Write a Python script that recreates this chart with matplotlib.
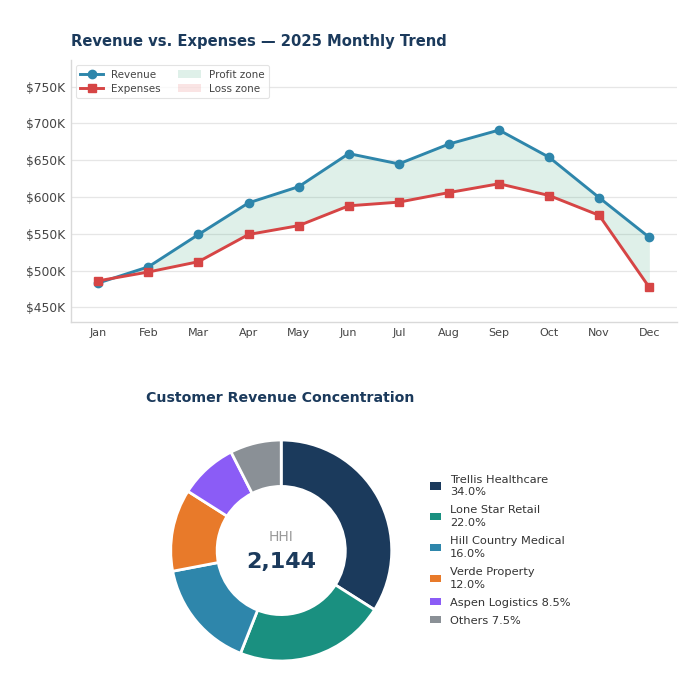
import matplotlib
matplotlib.use("Agg")
import matplotlib.pyplot as plt
from matplotlib.lines import Line2D
from matplotlib.patches import Patch
import numpy as np

months = ["Jan", "Feb", "Mar", "Apr", "May", "Jun", "Jul", "Aug", "Sep", "Oct", "Nov", "Dec"]
revenue = [483, 505, 549, 592, 614, 659, 645, 672, 691, 654, 599, 545]   # $K
expenses = [486, 498, 512, 549, 561, 588, 593, 606, 618, 602, 575, 477]  # $K
y_ticks = [450, 500, 550, 600, 650, 700, 750]

customers = ["Trellis Healthcare", "Lone Star Retail", "Hill Country Medical",
             "Verde Property", "Aspen Logistics", "Others"]
shares = [34.0, 22.0, 16.0, 12.0, 8.5, 7.5]
legend_labels = ["Trellis Healthcare\n34.0%", "Lone Star Retail\n22.0%",
                 "Hill Country Medical\n16.0%", "Verde Property\n12.0%",
                 "Aspen Logistics 8.5%", "Others 7.5%"]
hhi_label = "2,144"

NAVY = "#1b3a5c"
REV_C = "#2e86ab"
EXP_C = "#d64545"
PROFIT_C = "#2a9d6f"
LOSS_C = "#e05050"
pie_colors = ["#1b3a5c", "#1a9080", "#2e86ab", "#e87a2a", "#8b5cf6", "#8a9096"]

fig = plt.figure(figsize=(7, 7), dpi=100)
fig.patch.set_facecolor("white")

# ---- Line chart ----
ax = fig.add_axes([0.101, 0.54, 0.866, 0.374])
x = np.arange(len(months))
rev = np.array(revenue, dtype=float)
exp_ = np.array(expenses, dtype=float)
ax.fill_between(x, rev, exp_, where=rev >= exp_, interpolate=True,
                color=PROFIT_C, alpha=0.15, linewidth=0)
ax.fill_between(x, rev, exp_, where=rev < exp_, interpolate=True,
                color=LOSS_C, alpha=0.15, linewidth=0)
ax.plot(x, rev, color=REV_C, lw=2.1, marker="o", ms=6, zorder=3)
ax.plot(x, exp_, color=EXP_C, lw=2.1, marker="s", ms=6, zorder=3)

ax.set_xlim(-0.55, 11.55)
ax.set_ylim(430, 786)
ax.set_xticks(x)
ax.set_xticklabels(months)
ax.set_yticks(y_ticks)
ax.set_yticklabels([f"${v}K" for v in y_ticks])
ax.tick_params(axis="y", length=0, labelsize=8.8, labelcolor="#444444", pad=4)
ax.tick_params(axis="x", length=0, labelsize=8, labelcolor="#444444", pad=4)
ax.grid(axis="y", color="#e6e6e6", lw=0.9)
ax.set_axisbelow(True)
for s in ["top", "right"]:
    ax.spines[s].set_visible(False)
for s in ["left", "bottom"]:
    ax.spines[s].set_color("#d9d9d9")
    ax.spines[s].set_linewidth(1.0)

handles = [
    Line2D([0], [0], color=REV_C, lw=2.1, marker="o", ms=6),
    Line2D([0], [0], color=EXP_C, lw=2.1, marker="s", ms=6),
    Patch(facecolor=PROFIT_C, alpha=0.15),
    Patch(facecolor=LOSS_C, alpha=0.15),
]
leg = ax.legend(handles, ["Revenue", "Expenses", "Profit zone", "Loss zone"],
                loc="upper left", ncol=2, fontsize=7.5, frameon=True,
                borderpad=0.4, labelspacing=0.4, columnspacing=1.6,
                handlelength=2.2, bbox_to_anchor=(0.0, 1.0))
leg.get_frame().set_edgecolor("#dddddd")
leg.get_frame().set_linewidth(0.8)
for t in leg.get_texts():
    t.set_color("#444444")

fig.text(0.102, 0.941, "Revenue vs. Expenses \u2014 2025 Monthly Trend",
         fontsize=10.6, fontweight="bold", color=NAVY, ha="left", va="center")

# ---- Donut ----
pax = fig.add_axes([0.2439, 0.0557, 0.3157, 0.3157])
wedges, _ = pax.pie(shares, colors=pie_colors, startangle=90, counterclock=False,
                    wedgeprops=dict(width=0.42, edgecolor="white", linewidth=2))
pax.set_xlim(-1.0, 1.0)
pax.set_ylim(-1.0, 1.0)
pax.set_aspect("equal")
pax.axis("off")
pax.text(0, 0.12, "HHI", ha="center", va="center", fontsize=10, color="#999999")
pax.text(0, -0.10, hhi_label, ha="center", va="center", fontsize=16,
         fontweight="bold", color=NAVY)

fig.text(0.40, 0.431, "Customer Revenue Concentration", fontsize=10.2,
         fontweight="bold", color=NAVY, ha="center", va="center")

pie_handles = [Patch(facecolor=c, edgecolor="none") for c in pie_colors]
pleg = fig.legend(pie_handles, legend_labels, loc="center left",
                  bbox_to_anchor=(0.6, 0.214), frameon=False, fontsize=8.2,
                  handlelength=0.9, handleheight=0.6, handletextpad=0.85,
                  labelspacing=0.7)
for t in pleg.get_texts():
    t.set_color("#333333")
    t.set_linespacing(1.35)

fig.savefig("out.png", dpi=100, facecolor="white")
